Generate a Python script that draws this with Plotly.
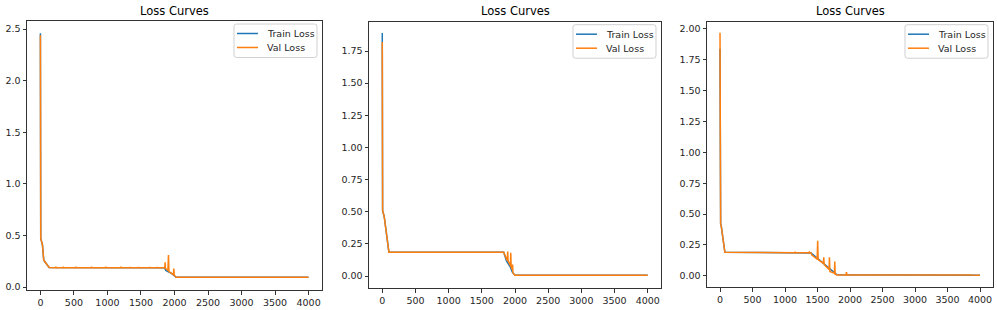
import plotly.graph_objects as go

# ---------------- data (epoch, loss) ----------------
# Panel 1
p1_train_x = [0, 1, 2, 5, 30, 50, 130, 1850, 1870, 1910, 1960, 2025, 3999]
p1_train_y = [2.46, 1.05, 0.65, 0.47, 0.41, 0.26, 0.19, 0.187, 0.16, 0.15, 0.13, 0.095, 0.095]
p1_val_x = [0, 1, 2, 5, 30, 50, 130,
            228, 230, 232, 341, 343, 345, 525, 527, 529, 759, 761, 763,
            973, 975, 977, 1197, 1199, 1201, 1331, 1333, 1335, 1461, 1463, 1465,
            1630, 1632, 1634, 1744, 1746, 1748,
            1850, 1856, 1860, 1864, 1902, 1910, 1917, 1960, 1984, 1990, 1996, 2025, 3999]
p1_val_y = [2.44, 1.05, 0.65, 0.47, 0.41, 0.26, 0.19,
            0.187, 0.197, 0.187, 0.187, 0.197, 0.187, 0.187, 0.198, 0.187, 0.187, 0.197, 0.187,
            0.187, 0.197, 0.187, 0.187, 0.197, 0.187, 0.187, 0.196, 0.187, 0.187, 0.196, 0.187,
            0.187, 0.196, 0.187, 0.187, 0.196, 0.187,
            0.187, 0.19, 0.24, 0.18, 0.16, 0.31, 0.15, 0.13, 0.12, 0.18, 0.115, 0.095, 0.095]

# Panel 2
p2_train_x = [0, 1, 2, 5, 30, 45, 100, 1830, 1870, 1930, 1960, 2000, 3999]
p2_train_y = [1.89, 0.93, 0.62, 0.51, 0.46, 0.39, 0.184, 0.184, 0.12, 0.07, 0.03, 0.005, 0.005]
p2_val_x = [0, 1, 5, 30, 45, 100,
            438, 440, 442, 613, 615, 617, 713, 715, 717, 863, 865, 867,
            1013, 1015, 1017, 1188, 1190, 1192, 1363, 1365, 1367, 1513, 1515, 1517,
            1663, 1665, 1667,
            1830, 1860, 1884, 1890, 1896, 1920, 1932, 1936, 1942, 1960, 1964, 1968, 1975, 2000,
            2948, 2950, 2952, 3698, 3700, 3702, 3798, 3800, 3802, 3999]
p2_val_y = [1.82, 0.62, 0.51, 0.46, 0.39, 0.184,
            0.184, 0.19, 0.184, 0.184, 0.19, 0.184, 0.184, 0.19, 0.184, 0.184, 0.19, 0.184,
            0.184, 0.19, 0.184, 0.184, 0.19, 0.184, 0.184, 0.19, 0.184, 0.184, 0.19, 0.184,
            0.184, 0.19, 0.184,
            0.184, 0.14, 0.12, 0.19, 0.12, 0.09, 0.08, 0.18, 0.07, 0.05, 0.09, 0.03, 0.02, 0.006,
            0.005, 0.011, 0.005, 0.005, 0.011, 0.005, 0.005, 0.011, 0.005, 0.005]

# Panel 3
p3_train_x = [0, 1, 2, 5, 10, 20, 75, 1400, 1800, 3999]
p3_train_y = [1.84, 1.0, 0.76, 0.55, 0.42, 0.40, 0.19, 0.185, 0.008, 0.004]
p3_val_x = [0, 1, 5, 10, 20, 75,
            1155, 1157, 1159, 1373, 1375, 1377,
            1400, 1410, 1495, 1503, 1510, 1590, 1596, 1603, 1678, 1684, 1690,
            1760, 1766, 1772, 1800, 1940, 1946, 1952,
            2488, 2490, 2492, 3258, 3260, 3262, 3668, 3670, 3672, 3848, 3850, 3852, 3999]
p3_val_y = [1.97, 0.76, 0.48, 0.42, 0.40, 0.19,
            0.186, 0.196, 0.186, 0.186, 0.197, 0.186,
            0.185, 0.17, 0.135, 0.284, 0.13, 0.10, 0.149, 0.09, 0.05, 0.149, 0.035,
            0.02, 0.114, 0.012, 0.006, 0.006, 0.03, 0.006,
            0.005, 0.011, 0.005, 0.005, 0.011, 0.005, 0.005, 0.011, 0.005, 0.005, 0.011, 0.005, 0.004]

x_ticks = [0, 500, 1000, 1500, 2000, 2500, 3000, 3500, 4000]
p1_y_ticks = [0.0, 0.5, 1.0, 1.5, 2.0, 2.5]
p2_y_ticks = [0.0, 0.25, 0.5, 0.75, 1.0, 1.25, 1.5, 1.75]
p3_y_ticks = [0.0, 0.25, 0.5, 0.75, 1.0, 1.25, 1.5, 1.75, 2.0]
title_text = "Loss Curves"
series_names = ["Train Loss", "Val Loss"]

# ---------------- layout ----------------
W, H = 997, 310
BLUE = "#1f77b4"
ORANGE = "#ff7f0e"
COLORS = [BLUE, ORANGE]
FONT = "DejaVu Sans"
TXT = "#262626"
TICK_SIZE = 9.5
LEG_SIZE = 9.5

panels = [
    dict(tx=p1_train_x, ty=p1_train_y, vx=p1_val_x, vy=p1_val_y, yt=p1_y_ticks, yfmt=".1f",
         px=(27, 322), py=(21, 290), yr=(-0.029, 2.578)),
    dict(tx=p2_train_x, ty=p2_train_y, vx=p2_val_x, vy=p2_val_y, yt=p2_y_ticks, yfmt=".2f",
         px=(369, 661), py=(21.7, 288), yr=(-0.0933, 1.978)),
    dict(tx=p3_train_x, ty=p3_train_y, vx=p3_val_x, vy=p3_val_y, yt=p3_y_ticks, yfmt=".2f",
         px=(707, 993), py=(21.7, 287), yr=(-0.0916, 2.059)),
]


def X(px):
    return px / W


def Y(py):
    return 1 - py / H


def rounded_rect(x0, y0, x1, y1, r):
    def P(x, y):
        return f"{X(x):.5f},{Y(y):.5f}"
    return (f"M {P(x0 + r, y0)} L {P(x1 - r, y0)} Q {P(x1, y0)} {P(x1, y0 + r)} "
            f"L {P(x1, y1 - r)} Q {P(x1, y1)} {P(x1 - r, y1)} "
            f"L {P(x0 + r, y1)} Q {P(x0, y1)} {P(x0, y1 - r)} "
            f"L {P(x0, y0 + r)} Q {P(x0, y0)} {P(x0 + r, y0)} Z")


fig = go.Figure()
layout = dict(
    template="none",
    width=W, height=H, margin=dict(l=0, r=0, t=0, b=0, pad=0, autoexpand=False),
    paper_bgcolor="white", plot_bgcolor="white",
    font=dict(family=FONT, size=10, color=TXT),
    showlegend=False,
    annotations=[], shapes=[],
)

for i, p in enumerate(panels):
    n = "" if i == 0 else str(i + 1)
    xa, ya = "x" + n, "y" + n
    fig.add_trace(go.Scatter(x=p["tx"], y=p["ty"], mode="lines", name=series_names[0],
                             line=dict(color=BLUE, width=1.5), xaxis=xa, yaxis=ya))
    fig.add_trace(go.Scatter(x=p["vx"], y=p["vy"], mode="lines", name=series_names[1],
                             line=dict(color=ORANGE, width=1.5), xaxis=xa, yaxis=ya))
    xd = [X(p["px"][0]), X(p["px"][1])]
    yd = [Y(p["py"][1]), Y(p["py"][0])]
    common = dict(showline=True, mirror=True, linecolor="#333333", linewidth=1,
                  ticks="outside", ticklen=3.5, tickwidth=0.8, tickcolor="#333333",
                  showgrid=False, zeroline=False, automargin=False,
                  tickfont=dict(family=FONT, size=TICK_SIZE, color=TXT))
    layout["xaxis" + n] = dict(domain=xd, range=[-200, 4200], tickvals=x_ticks,
                               anchor=ya, **common)
    layout["yaxis" + n] = dict(domain=yd, range=list(p["yr"]), tickvals=p["yt"],
                               tickformat=p["yfmt"], anchor=xa, **common)
    # title
    layout["annotations"].append(dict(
        text=title_text, x=(xd[0] + xd[1]) / 2, y=Y(10.7), xref="paper", yref="paper",
        showarrow=False, xanchor="center", yanchor="middle",
        font=dict(family=FONT, size=11.5, color="black")))
    # legend (matplotlib style box, upper right)
    bx1 = p["px"][1] - 5
    bx0 = bx1 - 83
    by0, by1 = p["py"][0] + 3, p["py"][0] + 36.5
    layout["shapes"].append(dict(type="path", path=rounded_rect(bx0, by0, bx1, by1, 2.5),
                                 xref="paper", yref="paper",
                                 fillcolor="rgba(255,255,255,0.8)",
                                 line=dict(color="#d0d0d0", width=1), layer="above"))
    for k, (nm, col) in enumerate(zip(series_names, COLORS)):
        ly = p["py"][0] + 12.5 + 14 * k
        layout["shapes"].append(dict(type="line", xref="paper", yref="paper",
                                     x0=X(bx0 + 3), x1=X(bx0 + 24), y0=Y(ly), y1=Y(ly),
                                     line=dict(color=col, width=1.5), layer="above"))
        layout["annotations"].append(dict(
            text=nm, x=X(bx0 + 31), y=Y(ly), xref="paper", yref="paper",
            showarrow=False, xanchor="left", yanchor="middle",
            font=dict(family=FONT, size=LEG_SIZE, color=TXT)))

fig.update_layout(**layout)
fig.write_html("out.html", config={"displayModeBar": False},
               post_script="document.body.style.margin='0px';document.body.style.padding='0px';")
